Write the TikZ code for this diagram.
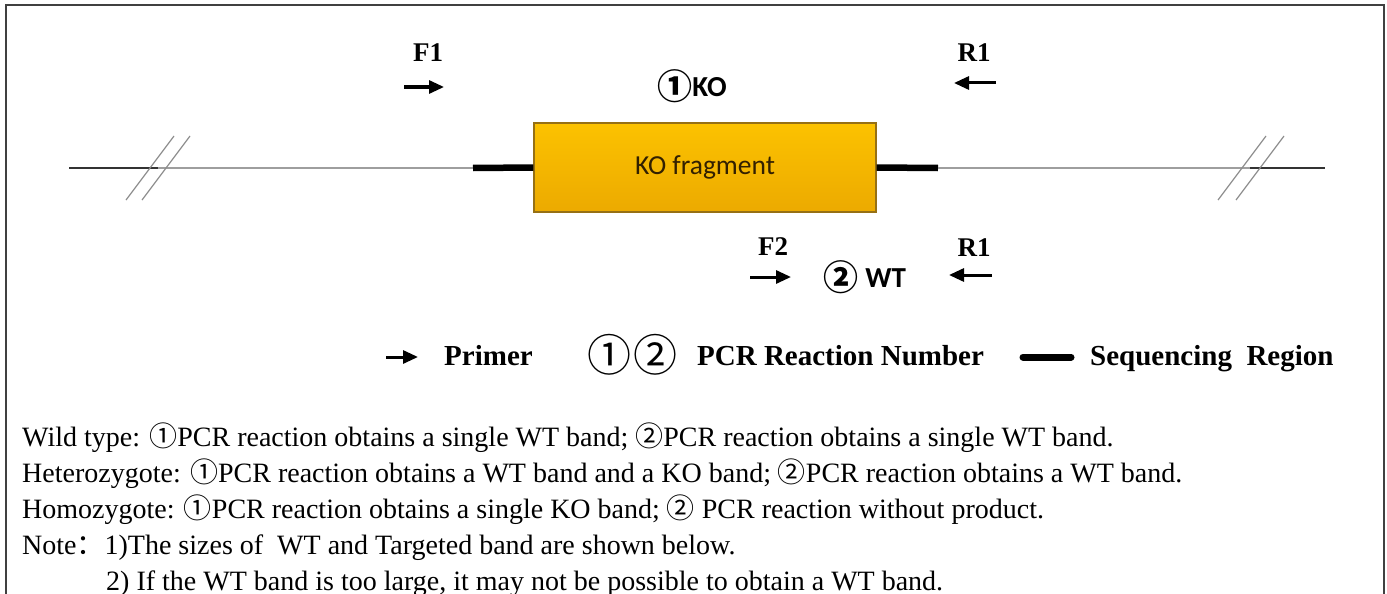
\documentclass[tikz,border=0pt]{standalone}
\usepackage{fontspec}
\setmainfont{Liberation Serif}
\newfontfamily\calfont{Carlito}
\newfontfamily\cjk{Noto Sans CJK SC}
\usetikzlibrary{arrows.meta}
\definecolor{kotop}{RGB}{252,194,0}
\definecolor{kobot}{RGB}{236,170,0}
\definecolor{koedge}{RGB}{150,112,20}
\definecolor{kotext}{RGB}{50,32,0}

\begin{document}
\begin{tikzpicture}[x=1pt,y=-1pt,
		dnaline/.style={line width=2pt,draw=black!38},
		dnaend/.style={line width=1.5pt,draw=black!80},
		seqreg/.style={line width=6.5pt,draw=black},
		brk/.style={line width=1.2pt,draw=black!45},
		primer/.style={line width=3pt,-{Triangle[length=15pt,width=13pt]}},
		plabel/.style={font=\fontsize{27}{30}\selectfont\bfseries},
		rxn/.style={font=\fontsize{29}{30}\selectfont\calfont\bfseries},
		kobox/.style={draw=koedge,line width=1.2pt,top color=kotop,bottom color=kobot,
			minimum width=342pt,minimum height=89pt,inner sep=0pt,
			font=\fontsize{27.5}{30}\selectfont\calfont,text=kotext},
		legend/.style={font=\fontsize{29}{30}\selectfont\bfseries,anchor=base west,inner sep=0pt},
		note/.style={font=\fontsize{28}{30}\selectfont,anchor=base west,inner sep=0pt}]
				\useasboundingbox (0,0) rectangle (1387,594);
				\draw [line width=1.5pt,black!75] (6,600) -- (6,5) -- (1384,5) -- (1384,600);
				% gene line
				\coordinate (lend) at (69,168);
				\coordinate (lbrk) at (158,168);
				\coordinate (lseq) at (473,168);
				\node [kobox] (ko) at (705,167.5) {KO fragment};
				\coordinate (rseq) at (938,168);
				\coordinate (rbrk) at (1250,168);
				\coordinate (rend) at (1325,168);
				\draw [dnaend] (lend) -- (lbrk);
				\draw [dnaline] (lbrk) -- (lseq);
				\draw [seqreg] (lseq) -- (ko.west);
				\draw [seqreg] (ko.east) -- (rseq);
				\draw [dnaline] (rseq) -- (rbrk);
				\draw [dnaend] (rbrk) -- (rend);
				\foreach \c in {150,166,1242,1260}
					\draw [brk] (\c-24,200) -- (\c+24,136);
				% primers
				\node [plabel] (F1) at (428,53) {F1};
				\node [plabel] (R1a) at (974,53) {R1};
				\node [plabel] (F2) at (773,247) {F2};
				\node [plabel] (R1b) at (974,248) {R1};
				\draw [primer] (404,87) -- (444,87);
				\draw [primer] (996,83) -- (954,83);
				\draw [primer] (750,277) -- (791,277);
				\draw [primer] (992,275) -- (949,275);
				\node [rxn] (rx1) at (692,86) {{\cjk\fontsize{35}{36}\selectfont ①}\raisebox{3pt}{KO}};
				\node [rxn] (rx2) at (865,277) {{\cjk\fontsize{35}{36}\selectfont ②} \raisebox{3pt}{WT}};
				% legend
				\draw [primer] (386,357) -- (418,357);
				\node [legend] (primer) at (444,365) {Primer};
				\node [legend,font=\cjk\fontsize{44}{46}\selectfont] (nums) at (587,371) {①\kern2pt②};
				\node [legend] (pcr) at (697,365) {PCR Reaction Number};
				\draw [seqreg,line width=7pt,line cap=round] (1023,357) -- (1071,357);
				\node [legend] (seq) at (1090,365) {Sequencing\ \ Region};
				% notes
				\node [note] (wild) at (22,446) {Wild type: {\cjk ①}PCR reaction obtains a single WT band; {\cjk ②}PCR reaction obtains a single WT band.};
				\node [note] (het) at (22,482) {Heterozygote: {\cjk ①}PCR reaction obtains a WT band and a KO band; {\cjk ②}PCR reaction obtains a WT band.};
				\node [note] (hom) at (22,518) {Homozygote: {\cjk ①}PCR reaction obtains a single KO band; {\cjk ②} PCR reaction without product.};
				\node [note] (nt1) at (22,554) {Note{\cjk ：}1)The sizes of\ \ WT and Targeted band are shown below.};
				\node [note] (nt2) at (106,590) {2) If the WT band is too large, it may not be possible to obtain a WT band.};
				\end{tikzpicture}
\end{document}
